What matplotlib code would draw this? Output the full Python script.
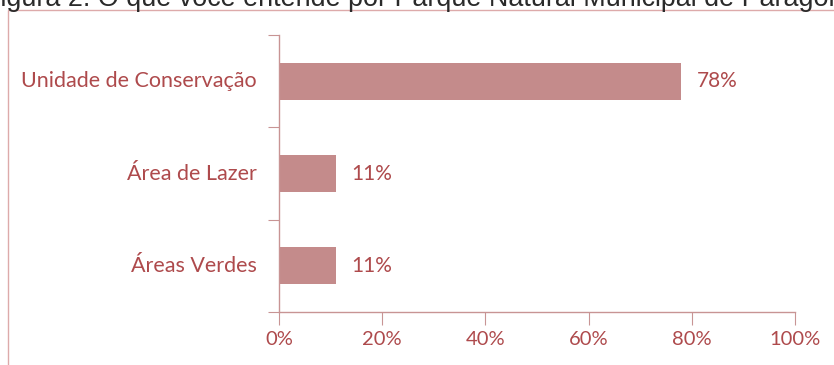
import matplotlib
matplotlib.use('Agg')
import matplotlib.pyplot as plt
from matplotlib.patches import Rectangle
from matplotlib.transforms import offset_copy

categories = ['Unidade de Conservação', 'Área de Lazer', 'Áreas Verdes']
values = [78, 11, 11]
x_ticks = [0, 20, 40, 60, 80, 100]
title = 'Figura 2. O que você entende por Parque Natural Municipal de Paragominas?'

bar_color = '#C48B8B'
text_color = '#AE4A4C'
axis_color = '#C89494'
plt.rcParams['font.family'] = ['Lato', 'DejaVu Sans']

fig = plt.figure(figsize=(8.34, 3.65), dpi=100)
fig.patch.set_facecolor('white')

# outer chart frame (cut off by the page crop on right/bottom)
frame = Rectangle((8/834, -0.2), 1.2, 1.2 - 10/365, transform=fig.transFigure,
                  fill=False, edgecolor='#DDAAAA', linewidth=1.0)
fig.patches.append(frame)

# caption cropped at top of the image
fig.text(-16/834, 1 - 6/365, title, ha='left', va='baseline', fontsize=19.4,
         color='#2a2a2a', family='Liberation Sans')

ax = fig.add_axes([279/834, 1 - 312/365, 516/834, 277/365])
ypos = list(range(len(categories)))
ax.barh(ypos, values, height=0.4, color=bar_color)
ax.set_ylim(len(categories) - 0.5, -0.5)
ax.set_xlim(0, 100)

for y, v in zip(ypos, values):
    ax.text(v + 3, y, f'{v}%', va='center', ha='left', fontsize=15, color=text_color)

for s in ['top', 'right']:
    ax.spines[s].set_visible(False)
for s in ['left', 'bottom']:
    ax.spines[s].set_color(axis_color)
    ax.spines[s].set_linewidth(1.0)

ax.set_xticks(x_ticks)
ax.set_xticklabels([f'{t}%' for t in x_ticks], fontsize=14.5, color=text_color)
ax.tick_params(axis='x', direction='out', length=9, color=axis_color, pad=5)

# y ticks sit on category boundaries
ax.set_yticks([i - 0.5 for i in range(len(categories) + 1)], minor=False)
ax.set_yticklabels([])
ax.tick_params(axis='y', direction='out', length=8, color=axis_color)
lab_tr = offset_copy(ax.get_yaxis_transform(), fig=fig, x=-22, y=0, units='dots')
for y, c in zip(ypos, categories):
    ax.text(0, y, c, transform=lab_tr, ha='right', va='center',
            fontsize=15.5, color=text_color)

fig.savefig('out.png', dpi=100)
